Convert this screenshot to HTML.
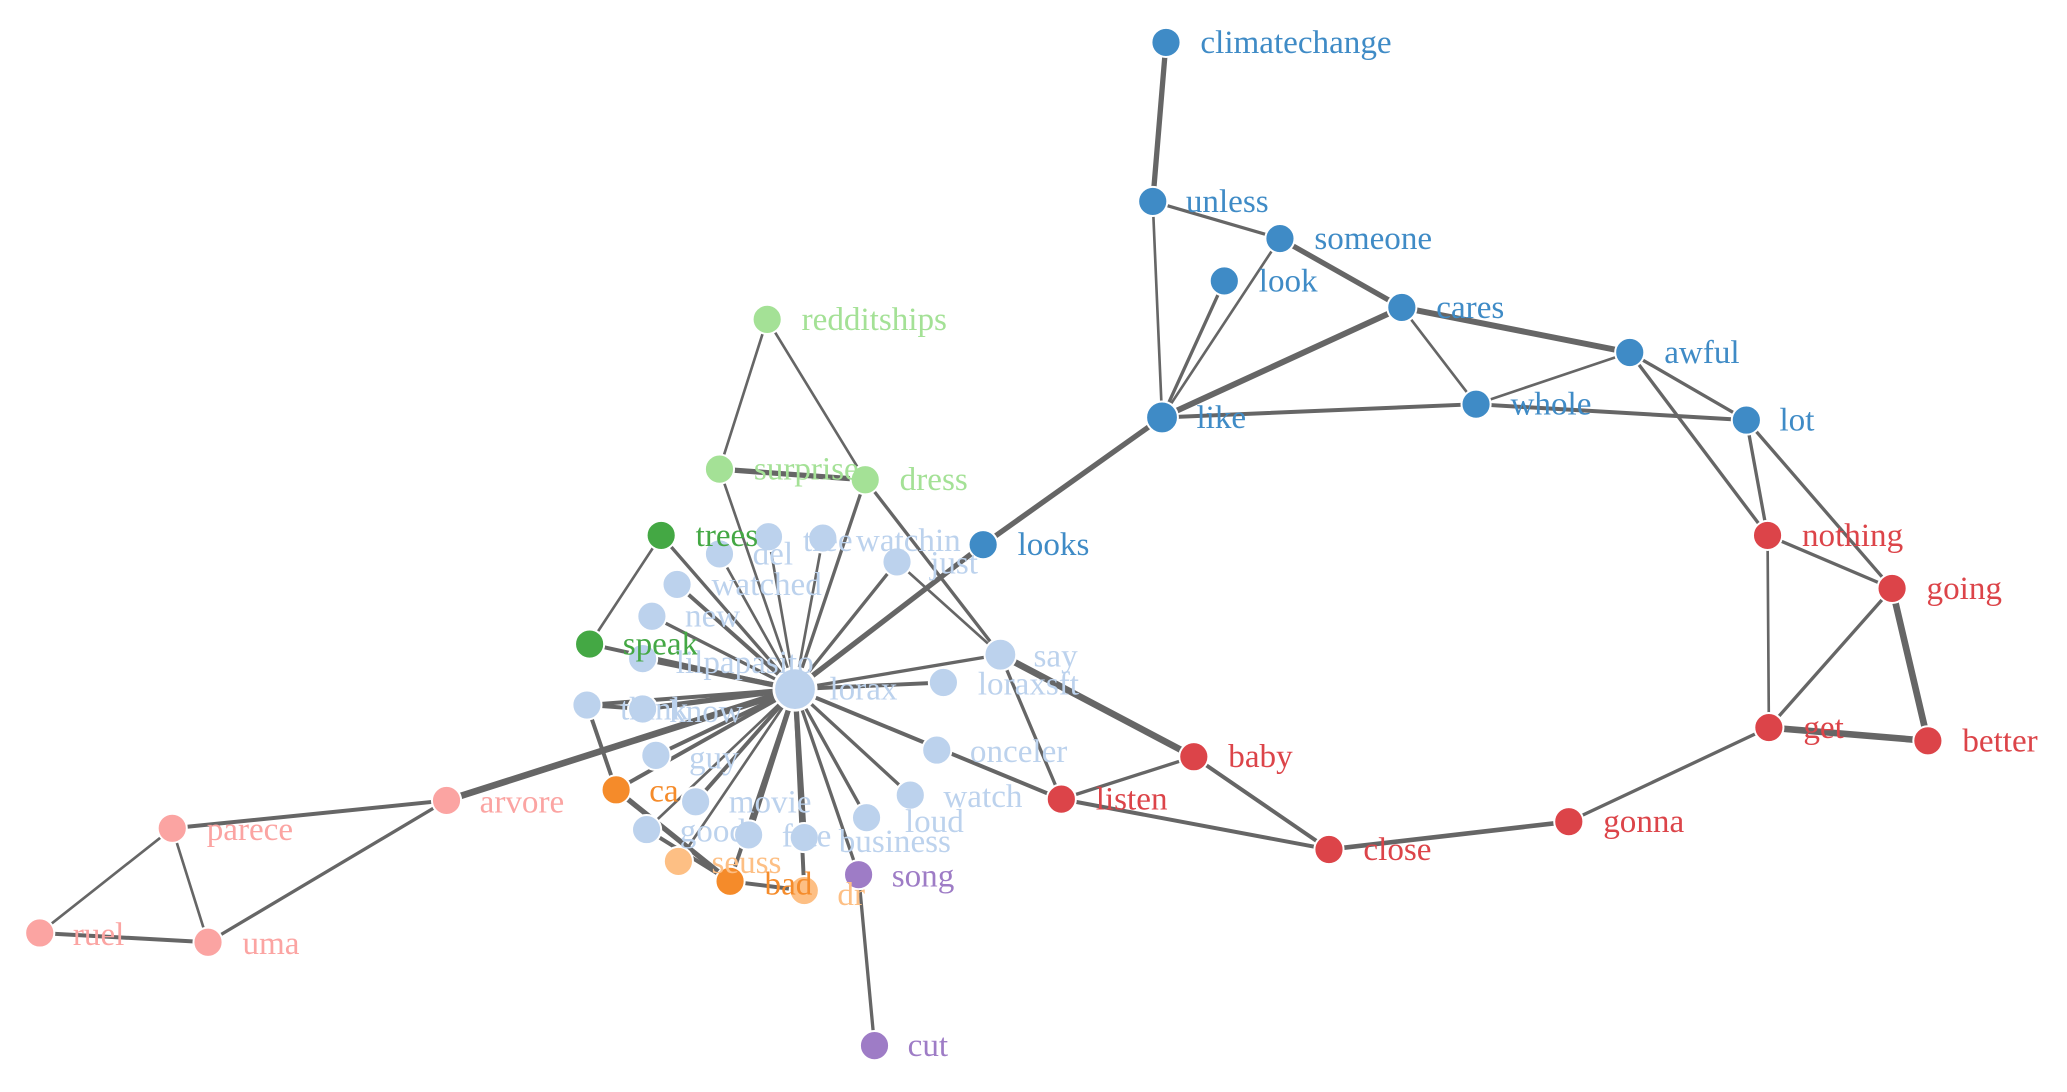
<!DOCTYPE html>
<html><head><meta charset="utf-8"><style>
html,body{margin:0;padding:0;background:#fff;}
svg{display:block;}
text{font-family:"Liberation Serif",serif;font-size:25px;}
.e{stroke:#666;stroke-linecap:round;}
</style></head><body>
<svg width="2067" height="1092" viewBox="0 0 1560 824" preserveAspectRatio="none" xmlns="http://www.w3.org/2000/svg">
<g class="ee" fill="none">
<line class="e" x1="600" y1="520" x2="543" y2="418" stroke-width="2"/>
<line class="e" x1="600" y1="520" x2="580" y2="405" stroke-width="2"/>
<line class="e" x1="600" y1="520" x2="621" y2="406" stroke-width="2"/>
<line class="e" x1="600" y1="520" x2="677" y2="424" stroke-width="2.5"/>
<line class="e" x1="600" y1="520" x2="511" y2="441" stroke-width="3"/>
<line class="e" x1="600" y1="520" x2="492" y2="465" stroke-width="2.5"/>
<line class="e" x1="600" y1="520" x2="485" y2="497" stroke-width="4"/>
<line class="e" x1="600" y1="520" x2="445" y2="486" stroke-width="3"/>
<line class="e" x1="600" y1="520" x2="499" y2="404" stroke-width="2.5"/>
<line class="e" x1="600" y1="520" x2="443" y2="532" stroke-width="3"/>
<line class="e" x1="600" y1="520" x2="485" y2="535" stroke-width="4"/>
<line class="e" x1="600" y1="520" x2="495" y2="570" stroke-width="3"/>
<line class="e" x1="600" y1="520" x2="525" y2="605" stroke-width="3"/>
<line class="e" x1="600" y1="520" x2="488" y2="626" stroke-width="2"/>
<line class="e" x1="600" y1="520" x2="565" y2="630" stroke-width="4"/>
<line class="e" x1="600" y1="520" x2="607" y2="632" stroke-width="4"/>
<line class="e" x1="600" y1="520" x2="654" y2="617" stroke-width="2.5"/>
<line class="e" x1="600" y1="520" x2="687" y2="600" stroke-width="2.5"/>
<line class="e" x1="600" y1="520" x2="801" y2="603" stroke-width="3"/>
<line class="e" x1="600" y1="520" x2="712" y2="515" stroke-width="3"/>
<line class="e" x1="600" y1="520" x2="755" y2="494" stroke-width="2.5"/>
<line class="e" x1="600" y1="520" x2="543" y2="354" stroke-width="2"/>
<line class="e" x1="600" y1="520" x2="653" y2="362" stroke-width="2.5"/>
<line class="e" x1="600" y1="520" x2="742" y2="411" stroke-width="4"/>
<line class="e" x1="742" y1="411" x2="877" y2="315" stroke-width="4"/>
<line class="e" x1="600" y1="520" x2="337" y2="604" stroke-width="5"/>
<line class="e" x1="600" y1="520" x2="465" y2="596" stroke-width="3"/>
<line class="e" x1="600" y1="520" x2="512" y2="650" stroke-width="2"/>
<line class="e" x1="600" y1="520" x2="551" y2="665" stroke-width="3"/>
<line class="e" x1="600" y1="520" x2="607" y2="672" stroke-width="3"/>
<line class="e" x1="600" y1="520" x2="648" y2="660" stroke-width="2.5"/>
<line class="e" x1="499" y1="404" x2="445" y2="486" stroke-width="2"/>
<line class="e" x1="579" y1="241" x2="543" y2="354" stroke-width="2"/>
<line class="e" x1="579" y1="241" x2="653" y2="362" stroke-width="2"/>
<line class="e" x1="543" y1="354" x2="653" y2="362" stroke-width="4"/>
<line class="e" x1="653" y1="362" x2="755" y2="494" stroke-width="2.5"/>
<line class="e" x1="677" y1="424" x2="755" y2="494" stroke-width="2"/>
<line class="e" x1="755" y1="494" x2="901" y2="571" stroke-width="5"/>
<line class="e" x1="755" y1="494" x2="801" y2="603" stroke-width="2.5"/>
<line class="e" x1="801" y1="603" x2="901" y2="571" stroke-width="2.5"/>
<line class="e" x1="801" y1="603" x2="1003" y2="641" stroke-width="3"/>
<line class="e" x1="901" y1="571" x2="1003" y2="641" stroke-width="3"/>
<line class="e" x1="1003" y1="641" x2="1184" y2="620" stroke-width="3.5"/>
<line class="e" x1="1184" y1="620" x2="1335" y2="549" stroke-width="2.5"/>
<line class="e" x1="1335" y1="549" x2="1455" y2="559" stroke-width="5"/>
<line class="e" x1="1335" y1="549" x2="1334" y2="404" stroke-width="2"/>
<line class="e" x1="1335" y1="549" x2="1428" y2="444" stroke-width="2.5"/>
<line class="e" x1="1334" y1="404" x2="1428" y2="444" stroke-width="2.5"/>
<line class="e" x1="1334" y1="404" x2="1318" y2="317" stroke-width="2.5"/>
<line class="e" x1="1334" y1="404" x2="1230" y2="266" stroke-width="2.5"/>
<line class="e" x1="1428" y1="444" x2="1318" y2="317" stroke-width="2.5"/>
<line class="e" x1="1428" y1="444" x2="1455" y2="559" stroke-width="5"/>
<line class="e" x1="1230" y1="266" x2="1318" y2="317" stroke-width="2.5"/>
<line class="e" x1="1230" y1="266" x2="1114" y2="305" stroke-width="2"/>
<line class="e" x1="1058" y1="232" x2="1230" y2="266" stroke-width="4.5"/>
<line class="e" x1="1058" y1="232" x2="1114" y2="305" stroke-width="2"/>
<line class="e" x1="1114" y1="305" x2="1318" y2="317" stroke-width="3"/>
<line class="e" x1="877" y1="315" x2="1114" y2="305" stroke-width="3"/>
<line class="e" x1="877" y1="315" x2="1058" y2="232" stroke-width="4.5"/>
<line class="e" x1="877" y1="315" x2="924" y2="212" stroke-width="2.5"/>
<line class="e" x1="877" y1="315" x2="966" y2="180" stroke-width="2"/>
<line class="e" x1="877" y1="315" x2="870" y2="152" stroke-width="2"/>
<line class="e" x1="870" y1="152" x2="966" y2="180" stroke-width="2.5"/>
<line class="e" x1="966" y1="180" x2="1058" y2="232" stroke-width="4"/>
<line class="e" x1="870" y1="152" x2="880" y2="32" stroke-width="4"/>
<line class="e" x1="337" y1="604" x2="130" y2="625" stroke-width="3"/>
<line class="e" x1="337" y1="604" x2="157" y2="711" stroke-width="2.5"/>
<line class="e" x1="130" y1="625" x2="30" y2="704" stroke-width="2"/>
<line class="e" x1="130" y1="625" x2="157" y2="711" stroke-width="2"/>
<line class="e" x1="30" y1="704" x2="157" y2="711" stroke-width="3"/>
<line class="e" x1="648" y1="660" x2="660" y2="789" stroke-width="2.5"/>
<line class="e" x1="443" y1="532" x2="465" y2="596" stroke-width="3"/>
<line class="e" x1="465" y1="596" x2="551" y2="665" stroke-width="4"/>
<line class="e" x1="551" y1="665" x2="607" y2="672" stroke-width="3"/>
<line class="e" x1="488" y1="626" x2="551" y2="665" stroke-width="3"/>
<line class="e" x1="443" y1="532" x2="485" y2="535" stroke-width="3"/>
</g>
<g stroke="#fff" stroke-width="1.5">
<g fill="#3f8bc6"><circle cx="880" cy="32" r="11"/><circle cx="870" cy="152" r="11"/><circle cx="966" cy="180" r="11"/><circle cx="924" cy="212" r="11"/><circle cx="1058" cy="232" r="11"/><circle cx="1230" cy="266" r="11"/><circle cx="877" cy="315" r="12"/><circle cx="1114" cy="305" r="11"/><circle cx="1318" cy="317" r="11"/><circle cx="742" cy="411" r="11"/></g>
<g fill="#dc4449"><circle cx="1334" cy="404" r="11"/><circle cx="1428" cy="444" r="11"/><circle cx="1335" cy="549" r="11"/><circle cx="1455" cy="559" r="11"/><circle cx="901" cy="571" r="11"/><circle cx="801" cy="603" r="11"/><circle cx="1003" cy="641" r="11"/><circle cx="1184" cy="620" r="11"/></g>
<g fill="#a4e196"><circle cx="579" cy="241" r="11"/><circle cx="543" cy="354" r="11"/><circle cx="653" cy="362" r="11"/></g>
<g fill="#44a844"><circle cx="499" cy="404" r="11"/><circle cx="445" cy="486" r="11"/></g>
<g fill="#bcd2ed"><circle cx="543" cy="418" r="11"/><circle cx="580" cy="405" r="11"/><circle cx="621" cy="406" r="11"/><circle cx="677" cy="424" r="11"/><circle cx="511" cy="441" r="11"/><circle cx="492" cy="465" r="11"/><circle cx="485" cy="497" r="11"/><circle cx="443" cy="532" r="11"/><circle cx="485" cy="535" r="11"/><circle cx="495" cy="570" r="11"/><circle cx="525" cy="605" r="11"/><circle cx="488" cy="626" r="11"/><circle cx="565" cy="630" r="11"/><circle cx="607" cy="632" r="11"/><circle cx="654" cy="617" r="11"/><circle cx="687" cy="600" r="11"/><circle cx="707" cy="566" r="11"/><circle cx="712" cy="515" r="11"/><circle cx="755" cy="494" r="12"/><circle cx="600" cy="520" r="16" stroke-width="2"/></g>
<g fill="#f58b2a"><circle cx="465" cy="596" r="11"/><circle cx="551" cy="665" r="11"/></g>
<g fill="#fdbf84"><circle cx="512" cy="650" r="11"/><circle cx="607" cy="672" r="11"/></g>
<g fill="#9e7cc6"><circle cx="648" cy="660" r="11"/><circle cx="660" cy="789" r="11"/></g>
<g fill="#fba4a2"><circle cx="337" cy="604" r="11"/><circle cx="130" cy="625" r="11"/><circle cx="30" cy="704" r="11"/><circle cx="157" cy="711" r="11"/></g>
</g>
<g dominant-baseline="central">
<g fill="#3f8bc6"><text x="906" y="32">climatechange</text><text x="895" y="152">unless</text><text x="992" y="180">someone</text><text x="950" y="212">look</text><text x="1084" y="232">cares</text><text x="1256" y="266">awful</text><text x="903" y="315">like</text><text x="1140" y="305">whole</text><text x="1343" y="317">lot</text><text x="768" y="411">looks</text></g>
<g fill="#dc4449"><text x="1360" y="404">nothing</text><text x="1454" y="444">going</text><text x="1361" y="549">get</text><text x="1481" y="559">better</text><text x="927" y="571">baby</text><text x="827" y="603">listen</text><text x="1029" y="641">close</text><text x="1210" y="620">gonna</text></g>
<g fill="#a4e196"><text x="605" y="241">redditships</text><text x="569" y="354">surprise</text><text x="679" y="362">dress</text></g>
<g fill="#44a844"><text x="525" y="404">trees</text><text x="470" y="486">speak</text></g>
<g fill="#bcd2ed"><text x="568" y="418">del</text><text x="606" y="408">tree</text><text x="646" y="408">watchin</text><text x="702" y="425">just</text><text x="537" y="441">watched</text><text x="517" y="465">new</text><text x="510" y="500">lilpapasito</text><text x="468" y="535">think</text><text x="505" y="537">know</text><text x="520" y="572">guy</text><text x="550" y="605">movie</text><text x="513" y="627">good</text><text x="590" y="631">fate</text><text x="633" y="635">business</text><text x="683" y="620">loud</text><text x="712" y="601">watch</text><text x="732" y="567">onceler</text><text x="738" y="516">loraxsft</text><text x="780" y="495">say</text><text x="626" y="520">lorax</text></g>
<g fill="#f58b2a"><text x="490" y="597">ca</text><text x="577" y="667">bad</text></g>
<g fill="#fdbf84"><text x="537" y="651">seuss</text><text x="632" y="675">dr</text></g>
<g fill="#9e7cc6"><text x="673" y="661">song</text><text x="685" y="789">cut</text></g>
<g fill="#fba4a2"><text x="362" y="605">arvore</text><text x="156" y="626">parece</text><text x="55" y="705">ruel</text><text x="183" y="712">uma</text></g>
</g>
</svg>
</body></html>
